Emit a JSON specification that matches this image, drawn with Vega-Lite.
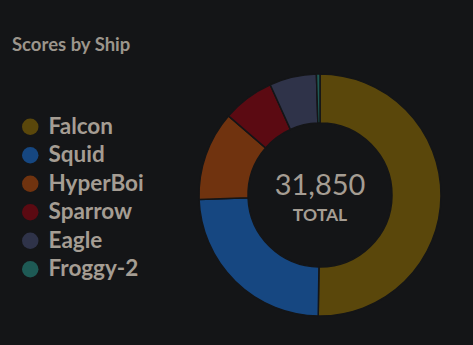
{
  "$schema": "https://vega.github.io/schema/vega-lite/v6.json",
  "width": 242,
  "height": 242,
  "autosize": {"type": "none"},
  "padding": {"left": 199, "top": 74, "right": 32, "bottom": 29},
  "background": "#141517",
  "title": {"text": "Scores by Ship", "anchor": "start", "frame": "group", "dx": -187, "dy": -13, "font": "Lato", "fontSize": 18.5, "fontWeight": "bold", "color": "#9c958c"},
  "config": {"view": {"stroke": null}, "font": "Lato"},
  "data": {"values": [
    {"ship": "Falcon", "score": 16000},
    {"ship": "Squid", "score": 7700},
    {"ship": "HyperBoi", "score": 3800},
    {"ship": "Sparrow", "score": 2200},
    {"ship": "Eagle", "score": 2000},
    {"ship": "Froggy-2", "score": 150}
  ]},
  "layer": [
    {
      "mark": {"type": "arc", "outerRadius": 121, "innerRadius": 72, "stroke": "#141517", "strokeWidth": 1.5},
      "encoding": {
        "theta": {"field": "score", "type": "quantitative", "stack": true},
        "order": {"field": "score", "sort": "descending"},
        "color": {
          "field": "ship", "type": "nominal",
          "scale": {"domain": ["Falcon", "Squid", "HyperBoi", "Sparrow", "Eagle", "Froggy-2"],
                    "range": ["#5a470b", "#164781", "#70330f", "#5b0a12", "#2f3349", "#1e5a55"]},
          "legend": {"orient": "none", "legendX": -180, "legendY": 41.5, "title": null, "symbolType": "circle", "symbolSize": 272, "symbolStrokeWidth": 0, "symbolOpacity": 1, "labelFontSize": 22.5, "labelFont": "Lato", "labelFontWeight": "bold", "labelColor": "#a59d93", "labelOffset": 7, "rowPadding": 5.5, "padding": 0}
        }
      }
    },
    {
      "transform": [{"aggregate": [{"op": "sum", "field": "score", "as": "total"}]}],
      "mark": {"type": "text", "font": "Lato", "fontSize": 29, "color": "#a59d93", "baseline": "middle", "align": "center", "dy": -9},
      "encoding": {"text": {"field": "total", "type": "quantitative", "format": ","}}
    },
    {
      "transform": [{"aggregate": [{"op": "sum", "field": "score", "as": "total"}]}],
      "mark": {"type": "text", "text": "TOTAL", "font": "Lato", "fontSize": 17.5, "fontWeight": "bold", "color": "#a59d93", "baseline": "middle", "align": "center", "dy": 21},
      "encoding": {}
    }
  ]
}
